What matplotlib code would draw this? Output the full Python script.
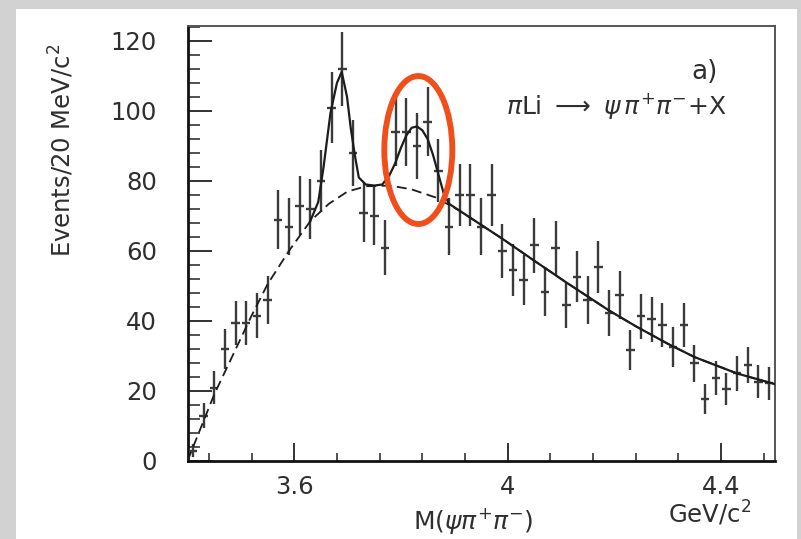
import numpy as np
import matplotlib
matplotlib.use("Agg")
from matplotlib import pyplot as plt
from matplotlib.patches import Ellipse, Rectangle
from matplotlib.ticker import MultipleLocator, FixedLocator

# psi pi+ pi- invariant mass, 20 MeV bins
mass = np.round(np.arange(3.41, 4.50, 0.02), 2)
events = [3, 13, 21, 32, 39.5, 39.5, 41.5, 46, 69, 67,
          73, 72, 80, 101, 112, 88, 71, 70, 61, 94,
          94, 90, 97, 83, 67, 76, 76, 67, 76, 60,
          54.6, 51.7, 61.7, 48.4, 60.8, 44.6, 52.7, 46, 55.5, 42.3,
          47.4, 31.7, 41.4, 40.5, 38.9, 32.7, 38.9, 27.9, 17.7, 23.7,
          20.5, 25.1, 27.4, 22.7, 22.2]
errors = np.sqrt(events)

# background shape (dashed)
bg_mass = [3.40, 3.45, 3.52, 3.55, 3.59, 3.63, 3.665, 3.70, 3.735, 3.78,
           3.82, 3.865, 3.91, 3.99, 4.05, 4.11, 4.19, 4.24, 4.30, 4.35,
           4.43, 4.50]
bg_val = [0, 19, 41.5, 50.5, 60, 68.5, 73.5, 77, 78.5, 78.7,
          77.6, 75.3, 71.5, 63.5, 57.2, 51, 43, 38.5, 33.5, 29.7,
          25, 22]

# full fit, background + two peaks (solid)
fit_mass = [3.63, 3.645, 3.655, 3.66, 3.668, 3.68, 3.689, 3.699, 3.706, 3.714,
            3.721, 3.734, 3.75, 3.765, 3.778, 3.789, 3.80, 3.81, 3.82, 3.83,
            3.84, 3.85, 3.86, 3.87, 3.88, 3.89, 3.91, 3.99, 4.05, 4.11,
            4.19, 4.24, 4.30, 4.35, 4.43, 4.50]
fit_val = [68.5, 74, 84, 90, 99.5, 108, 111.2, 104, 95, 87,
           81, 79, 78.7, 79, 81.5, 85, 89.5, 93, 95.2, 95.6,
           94.5, 92, 87.5, 82, 76.5, 73.5, 71.5, 63.5, 57.2, 51,
           43, 38.5, 33.5, 29.7, 25, 22]

W, H = 801, 539
fig = plt.figure(figsize=(W / 100, H / 100), dpi=100)
fig.patch.set_facecolor('#d2d2d2')
fig.patches.append(Rectangle((16 / W, 0), (797 - 16) / W, (539 - 9) / H,
                             transform=fig.transFigure, facecolor='white',
                             edgecolor='none', zorder=-10))

ax = fig.add_axes([187.5 / W, (H - 461) / H, 587 / W, 435 / H])
ax.set_facecolor('white')
ax.set_xlim(3.40, 4.50)
ax.set_ylim(0, 435 / 3.5)

ink = '#1c1c1c'
txt = '#2e2e2e'
ax.errorbar(mass, events, yerr=errors, xerr=0.008, fmt='none',
            ecolor='#3a3a3a', elinewidth=1.7, capsize=0, clip_on=False, zorder=3)
bg_line, = ax.plot(bg_mass, bg_val, color=ink, lw=1.3, zorder=4)
bg_line.set_dashes([5.5, 3])
ax.plot(fit_mass, fit_val, color=ink, lw=1.6, zorder=5)

# frame: heavy left/bottom, lighter top/right
for side in ('left', 'bottom'):
    ax.spines[side].set_color('#111111')
    ax.spines[side].set_linewidth(2.0)
for side in ('top', 'right'):
    ax.spines[side].set_color('#555555')
    ax.spines[side].set_linewidth(1.4)

ax.xaxis.set_major_locator(FixedLocator([3.6, 4.0, 4.4]))
ax.set_xticklabels(['3.6', '4', '4.4'])
ax.xaxis.set_minor_locator(MultipleLocator(0.08))
ax.yaxis.set_major_locator(MultipleLocator(20))
ax.yaxis.set_minor_locator(MultipleLocator(4))

ax.tick_params(axis='both', which='both', direction='in', color='#222222',
               top=False, right=False, labelcolor=txt, labelsize=17.5)
ax.tick_params(axis='y', which='major', length=17, width=1.3, pad=22)
ax.tick_params(axis='y', which='minor', length=8.5, width=1.1)
ax.tick_params(axis='x', which='major', length=13, width=1.3, pad=10)
ax.tick_params(axis='x', which='minor', length=6, width=1.1)

fig.text(62 / W, 1 - 150 / H, 'Events/20 MeV/c$^2$', rotation=90,
         ha='center', va='center', fontsize=17.5, color=txt)
fig.text(473 / W, 1 - 521 / H, r'M($\psi\pi^{+}\pi^{-}$)',
         ha='center', va='center', fontsize=18, color=txt)
fig.text(710 / W, 1 - 513 / H, 'GeV/c$^2$',
         ha='center', va='center', fontsize=17.5, color=txt)
fig.text(705 / W, 1 - 72 / H, 'a)',
         ha='center', va='center', fontsize=19, color=txt)
fig.text(616 / W, 1 - 106 / H,
         r'$\pi$Li $\longrightarrow$ $\psi\,\pi^{+}\pi^{-}$+X',
         ha='center', va='center', fontsize=18, color=txt)

# highlight around the second peak
fig.patches.append(Ellipse((418.3 / W, 1 - 150 / H), 68 / W, 148 / H,
                           transform=fig.transFigure, fill=False,
                           edgecolor='#f04e1a', linewidth=4.2, zorder=10))

fig.savefig('out.png', dpi=100, facecolor=fig.get_facecolor())
